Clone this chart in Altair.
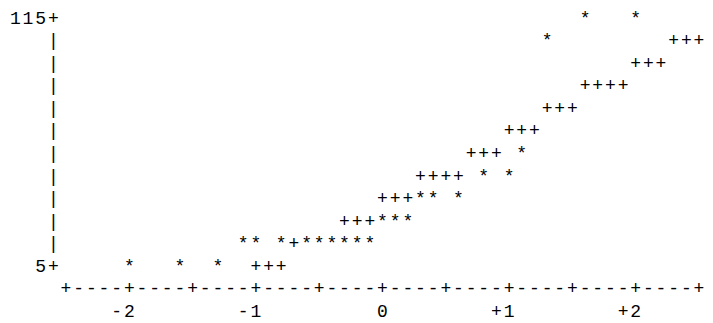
import altair as alt
import pandas as pd

# Observations (*): normal quantile and value
star_q = [1.6, 2.0, 1.3, 1.1, 0.8, 1.0, 0.3, 0.4, 0.6, 0.0, 0.1, 0.2,
          -1.1, -1.0, -0.8, -0.6, -0.5, -0.4, -0.3, -0.2, -0.1,
          -2.0, -1.6, -1.3]
star_v = [115, 115, 105, 55, 45, 45, 35, 35, 35, 25, 25, 25,
          15, 15, 15, 15, 15, 15, 15, 15, 15,
          5, 5, 5]

# Reference line (+): normal quantile and value
plus_q = [2.3, 2.4, 2.5, 2.0, 2.1, 2.2, 1.6, 1.7, 1.8, 1.9, 1.3, 1.4, 1.5,
          1.0, 1.1, 1.2, 0.7, 0.8, 0.9, 0.3, 0.4, 0.5, 0.6, 0.0, 0.1, 0.2,
          -0.3, -0.2, -0.1, -0.7, -1.0, -0.9, -0.8]
plus_v = [105, 105, 105, 95, 95, 95, 85, 85, 85, 85, 75, 75, 75,
          65, 65, 65, 55, 55, 55, 45, 45, 45, 45, 35, 35, 35,
          25, 25, 25, 15, 5, 5, 5]

y_tick_values = [115, 5]
y_tick_labels = ["115", "5"]
x_tick_values = [-2, -1, 0, 1, 2]
x_tick_labels = ["-2", "-1", "0", "+1", "+2"]

x_min, x_max, x_step = -2.5, 2.5, 0.1   # one character column
y_min, y_max, y_step = 5, 115, 10       # one character row

rows = []
for q, v in zip(star_q, star_v):
    rows.append({"q": q, "v": v, "ch": "*"})
for q, v in zip(plus_q, plus_v):
    rows.append({"q": q, "v": v, "ch": "+"})

# vertical axis
axis_q = round(x_min - x_step, 2)
v = y_min
while v <= y_max:
    rows.append({"q": axis_q, "v": v, "ch": "+" if v in y_tick_values else "|"})
    v += y_step
for tv, lab in zip(y_tick_values, y_tick_labels):
    for i, ch in enumerate(reversed(lab)):
        rows.append({"q": round(axis_q - (i + 1) * x_step, 2), "v": tv, "ch": ch})

# horizontal axis
axis_v = y_min - y_step
n_cols = int(round((x_max - x_min) / x_step))
for c in range(n_cols + 1):
    rows.append({"q": round(x_min + c * x_step, 2), "v": axis_v,
                 "ch": "+" if c % 5 == 0 else "-"})
label_v = axis_v - y_step
for tq, lab in zip(x_tick_values, x_tick_labels):
    for i, ch in enumerate(reversed(lab)):
        rows.append({"q": round(tq - i * x_step, 2), "v": label_v, "ch": ch})

df = pd.DataFrame(rows)

chart = alt.Chart(df).mark_text(
    font="Liberation Mono", fontSize=18, align="center", baseline="alphabetic",
    color="#000000"
).encode(
    x=alt.X("q:Q", scale=alt.Scale(domain=[x_min, x_max], range=[58, 691], zero=False, nice=False), axis=None),
    y=alt.Y("v:Q", scale=alt.Scale(domain=[y_min, y_max], range=[263.85, 15.5], zero=False, nice=False), axis=None),
    text="ch:N",
).properties(
    width=697, height=315,
    autosize=alt.AutoSizeParams(type="none"),
    padding=0,
).configure_view(stroke=None)

chart.save("out.html", embed_options={"renderer": "svg", "actions": False})
